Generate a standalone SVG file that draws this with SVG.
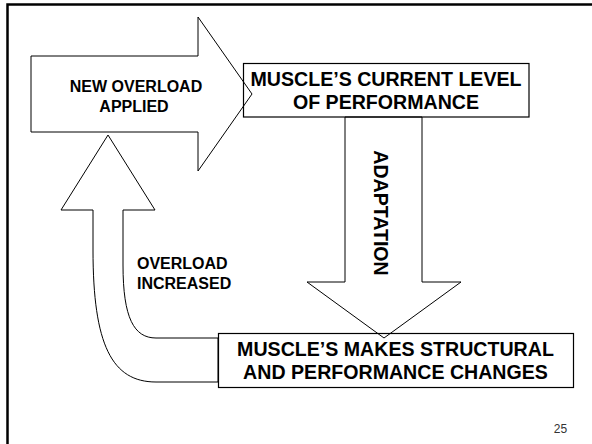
<svg xmlns="http://www.w3.org/2000/svg" width="592" height="444" viewBox="0 0 592 444">
<style>
.shape{fill:#fff;stroke:#000;stroke-width:1}
.box{fill:none;stroke:#000;stroke-width:1.2}
.t{font-family:"Liberation Sans",Arial,sans-serif;font-weight:bold;fill:#000}
.big{font-size:19.6px}
.small{font-size:16px}
</style>
<rect x="0" y="0" width="592" height="444" fill="#fff"/>
<path d="M7.5,444 V4.5 H592" fill="none" stroke="#000" stroke-width="2.5"/>
<g id="connectors">
  <path class="shape" d="M123,210 L123,265 C123,318 134,338 156,338 L218,338 L218,382 L156,382 C112,382 93,345 93,250 L93,210 L61,210 L108,135 L155,210 Z"/>
  <path class="shape" d="M345,117 L422,117 L422,282 L461,282 L384,338 L307,282 L345,282 Z"/>
  <text class="t big" transform="translate(374,213) rotate(90)" text-anchor="middle">ADAPTATION</text>
  <text class="t small" x="137" y="269">OVERLOAD</text>
  <text class="t small" x="137" y="288.5">INCREASED</text>
</g>
<g id="node-new-overload">
  <path class="shape" d="M31,56 L198,56 L198,17 L252,94 L198,171 L198,132 L31,132 Z"/>
  <text class="t small" x="136" y="91.7" text-anchor="middle">NEW OVERLOAD</text>
  <text class="t small" x="134" y="111.7" text-anchor="middle">APPLIED</text>
</g>
<g id="node-current-level">
  <rect class="box" x="243.5" y="63.5" width="285.5" height="53.5"/>
  <text class="t big" x="386" y="86" text-anchor="middle">MUSCLE’S CURRENT LEVEL</text>
  <text class="t big" x="386" y="109.3" text-anchor="middle">OF PERFORMANCE</text>
</g>
<g id="node-changes">
  <rect class="box" x="218.5" y="333.5" width="355" height="54"/>
  <text class="t big" x="395.5" y="355.7" text-anchor="middle">MUSCLE’S MAKES STRUCTURAL</text>
  <text class="t big" x="395.5" y="379.3" text-anchor="middle">AND PERFORMANCE CHANGES</text>
</g>
<text x="560.5" y="432.5" text-anchor="middle" font-family="'Liberation Sans Narrow','Liberation Sans',Arial,sans-serif" font-size="12" fill="#333">25</text>
</svg>
